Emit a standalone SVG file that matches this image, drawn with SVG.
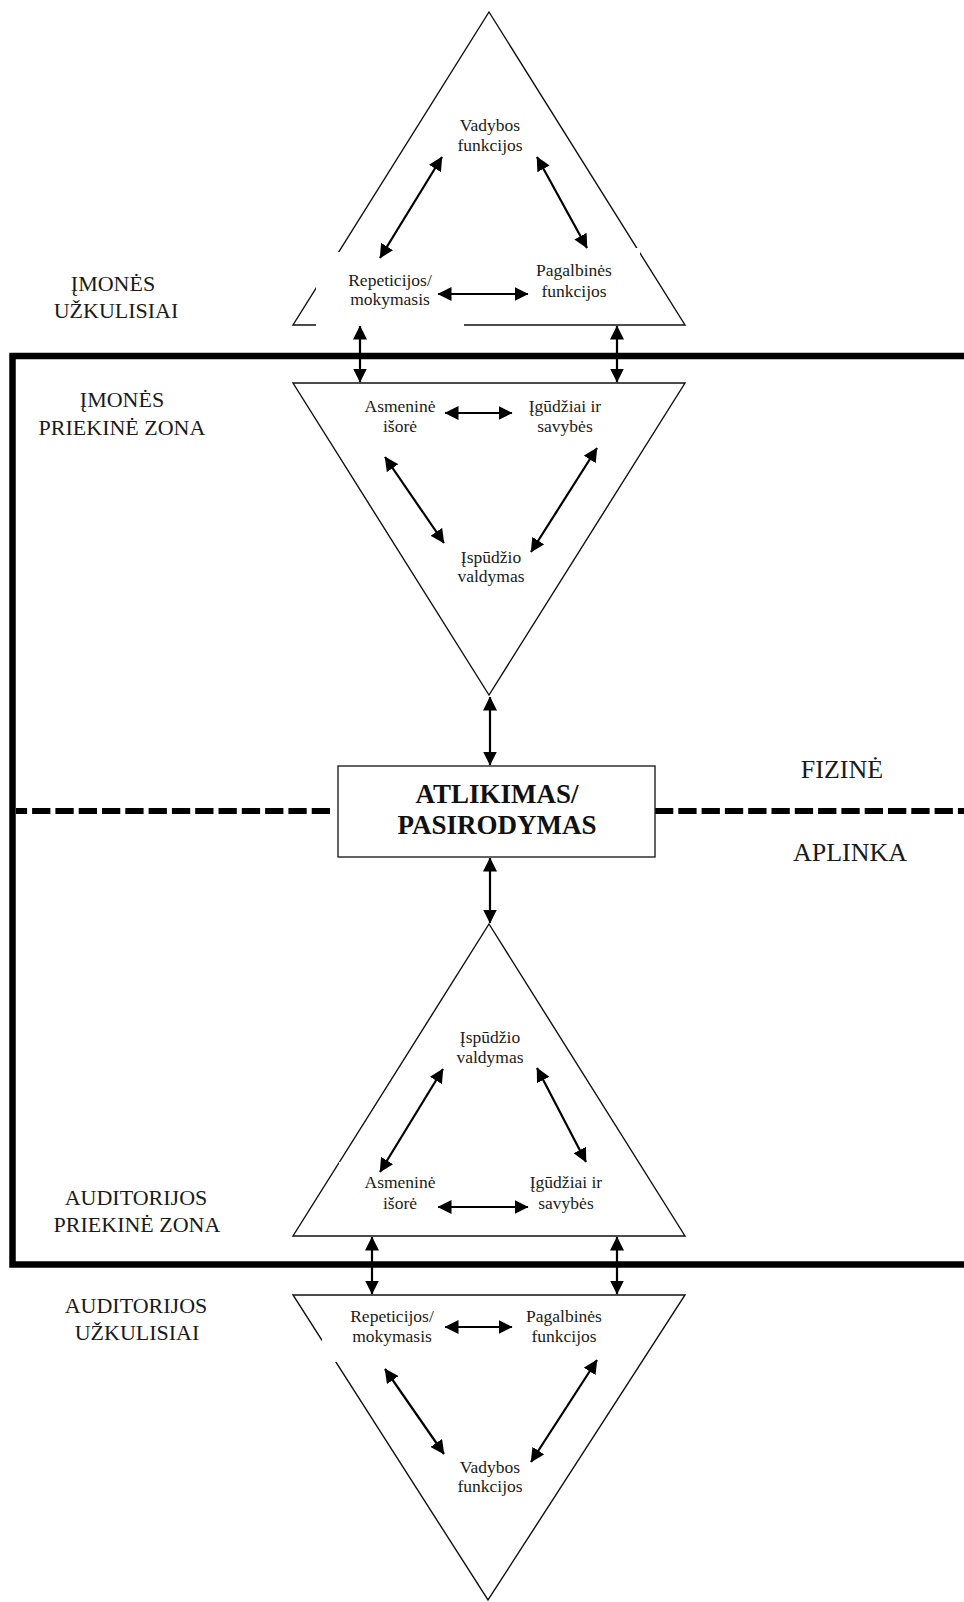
<svg xmlns="http://www.w3.org/2000/svg" width="964" height="1602" viewBox="0 0 964 1602">
<style>
  .tri { fill: none; stroke: #111; stroke-width: 1.4; }
  .bg { fill: #fff; stroke: none; }
  .lbl { font-family: "Liberation Serif", "Times New Roman", serif; font-size: 17.5px; fill: #1a1a1a; text-anchor: middle; }
  .zone { font-family: "Liberation Serif", "Times New Roman", serif; font-size: 22px; fill: #1a1a1a; text-anchor: middle; }
  .env { font-family: "Liberation Serif", "Times New Roman", serif; font-size: 26px; fill: #1a1a1a; text-anchor: middle; }
  .main { font-family: "Liberation Serif", "Times New Roman", serif; font-size: 27px; font-weight: bold; fill: #111; text-anchor: middle; }
  .arr { stroke: #000; stroke-width: 2.2; fill: none; marker-start: url(#ah); marker-end: url(#ah); }
  .frame { fill: none; stroke: #000; stroke-width: 6.5; }
  .dash { stroke: #000; stroke-width: 6; stroke-dasharray: 18.3 5; fill: none; }
</style>
<defs>
  <marker id="ah" viewBox="0 0 14 14" refX="13.5" refY="7" markerWidth="14" markerHeight="14" markerUnits="userSpaceOnUse" orient="auto-start-reverse">
    <path d="M0,0 L14,7 L0,14 z" fill="#000"/>
  </marker>
</defs>
<rect x="0" y="0" width="964" height="1602" fill="#fff"/>

<g id="frame">
  <path class="frame" d="M 970 356 H 12.5 V 1264.5 H 970"/>
  <line class="dash" x1="330" y1="811" x2="16" y2="811"/>
  <line class="dash" x1="655" y1="811" x2="964" y2="811"/>
</g>

<g id="zone-labels">
  <text class="zone" x="113" y="291">ĮMONĖS</text>
  <text class="zone" x="116" y="318">UŽKULISIAI</text>
  <text class="zone" x="122" y="407">ĮMONĖS</text>
  <text class="zone" x="122" y="435">PRIEKINĖ ZONA</text>
  <text class="zone" x="136" y="1205">AUDITORIJOS</text>
  <text class="zone" x="137" y="1232">PRIEKINĖ ZONA</text>
  <text class="zone" x="136" y="1313">AUDITORIJOS</text>
  <text class="zone" x="137" y="1340">UŽKULISIAI</text>
  <text class="env" x="842" y="778">FIZINĖ</text>
  <text class="env" x="850" y="861">APLINKA</text>
</g>

<g id="imones-uzkulisiai">
  <polygon class="tri" points="489,12 685,325 293,325"/>
  <rect class="bg" x="316" y="252" width="148" height="76"/>
  <rect class="bg" x="500" y="248" width="140" height="62"/>
  <text class="lbl" x="490" y="131">Vadybos</text>
  <text class="lbl" x="490" y="151">funkcijos</text>
  <text class="lbl" x="390" y="286">Repeticijos/</text>
  <text class="lbl" x="390" y="305">mokymasis</text>
  <text class="lbl" x="574" y="276">Pagalbinės</text>
  <text class="lbl" x="574" y="297">funkcijos</text>
</g>

<g id="imones-priekine">
  <polygon class="tri" points="293,383 685,383 489,695"/>
  <text class="lbl" x="400" y="412">Asmeninė</text>
  <text class="lbl" x="400" y="432">išorė</text>
  <text class="lbl" x="565" y="412">Įgūdžiai ir</text>
  <text class="lbl" x="565" y="432">savybės</text>
  <text class="lbl" x="491" y="563">Įspūdžio</text>
  <text class="lbl" x="491" y="582">valdymas</text>
</g>

<g id="atlikimas">
  <rect x="338" y="766" width="317" height="91" fill="#fff" stroke="#222" stroke-width="1.4"/>
  <text class="main" x="497" y="803">ATLIKIMAS/</text>
  <text class="main" x="497" y="834">PASIRODYMAS</text>
</g>

<g id="auditorijos-priekine">
  <polygon class="tri" points="489,924 685,1236 293,1236"/>
  <rect class="bg" x="339" y="1162" width="299" height="62"/>
  <text class="lbl" x="490" y="1043">Įspūdžio</text>
  <text class="lbl" x="490" y="1063">valdymas</text>
  <text class="lbl" x="400" y="1188">Asmeninė</text>
  <text class="lbl" x="400" y="1209">išorė</text>
  <text class="lbl" x="566" y="1188">Įgūdžiai ir</text>
  <text class="lbl" x="566" y="1209">savybės</text>
</g>

<g id="auditorijos-uzkulisiai">
  <polygon class="tri" points="293,1295 685,1295 488,1600"/>
  <rect class="bg" x="322" y="1300" width="125" height="62"/>
  <text class="lbl" x="392" y="1322">Repeticijos/</text>
  <text class="lbl" x="392" y="1342">mokymasis</text>
  <text class="lbl" x="564" y="1322">Pagalbinės</text>
  <text class="lbl" x="564" y="1342">funkcijos</text>
  <text class="lbl" x="490" y="1473">Vadybos</text>
  <text class="lbl" x="490" y="1492">funkcijos</text>
</g>

<g id="connectors">
  <line class="arr" x1="442" y1="157" x2="380" y2="258"/>
  <line class="arr" x1="537" y1="157" x2="587" y2="248"/>
  <line class="arr" x1="438" y1="294" x2="528" y2="294"/>
  <line class="arr" x1="360" y1="326" x2="360" y2="382"/>
  <line class="arr" x1="617" y1="326" x2="617" y2="382"/>
  <line class="arr" x1="445" y1="413" x2="512" y2="413"/>
  <line class="arr" x1="385" y1="457" x2="444" y2="543"/>
  <line class="arr" x1="597" y1="448" x2="531" y2="552"/>
  <line class="arr" x1="490" y1="697" x2="490" y2="765"/>
  <line class="arr" x1="490" y1="858" x2="490" y2="923"/>
  <line class="arr" x1="443" y1="1069" x2="380" y2="1172"/>
  <line class="arr" x1="537" y1="1068" x2="586" y2="1162"/>
  <line class="arr" x1="438" y1="1207" x2="528" y2="1207"/>
  <line class="arr" x1="372" y1="1237" x2="372" y2="1294"/>
  <line class="arr" x1="617" y1="1237" x2="617" y2="1294"/>
  <line class="arr" x1="445" y1="1327" x2="512" y2="1327"/>
  <line class="arr" x1="385" y1="1369" x2="444" y2="1454"/>
  <line class="arr" x1="597" y1="1360" x2="531" y2="1462"/>
</g>
</svg>
